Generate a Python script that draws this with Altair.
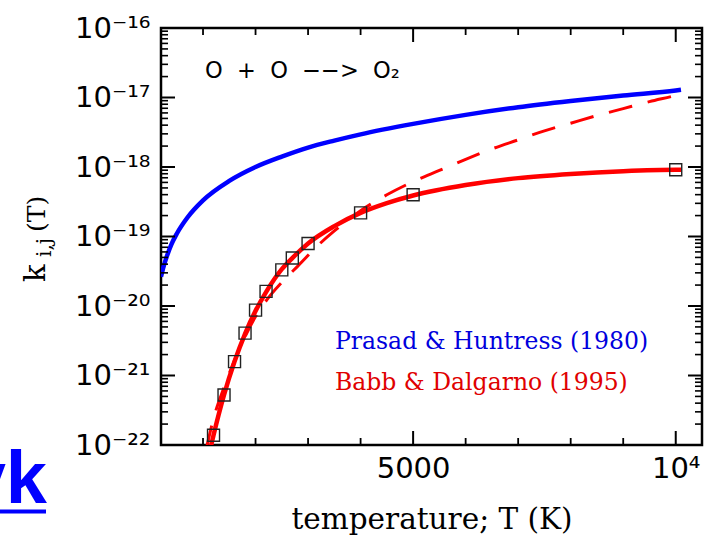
import altair as alt
import pandas as pd

# ---- data (log10 of rate coefficient) ----
blue_T = [200, 250, 300, 400, 500, 700, 1000, 1500, 2000, 2500, 3000, 3500, 4000,
          5000, 6000, 7000, 8000, 9000, 10000, 10100]
blue_logk = [-19.58, -19.43, -19.31, -19.11, -18.96, -18.73, -18.48, -18.20, -18.00,
             -17.85, -17.72, -17.62, -17.53, -17.38, -17.25, -17.14, -17.05, -16.97,
             -16.90, -16.89]

red_T = [1150, 1200, 1400, 1600, 1800, 2000, 2200, 2500, 2700, 3000, 3500, 4000, 4500,
         5000, 6000, 7000, 8000, 9000, 10000, 10100]
red_logk = [-22.02, -21.86, -21.28, -20.80, -20.40, -20.07, -19.80, -19.47, -19.31,
            -19.10, -18.85, -18.66, -18.52, -18.41, -18.26, -18.16, -18.10, -18.06,
            -18.04, -18.04]

dash_T = [1060, 1100, 1200, 1400, 1600, 1800, 2000, 2300, 2600, 2800, 3200, 3500, 4000,
          4500, 5000, 5500, 6000, 6500, 7000, 7500, 8000, 8500, 9000, 9500, 10000, 10100]
dash_logk = [-22.06, -21.93, -21.62, -21.17, -20.78, -20.44, -20.15, -19.83, -19.58,
             -19.43, -19.12, -18.92, -18.63, -18.40, -18.21, -18.05, -17.89, -17.74,
             -17.61, -17.48, -17.37, -17.26, -17.16, -17.06, -16.97, -16.95]

sq_T = [1200, 1400, 1600, 1800, 2000, 2200, 2500, 2700, 3000, 4000, 5000, 10000]
sq_logk = [-21.86, -21.28, -20.80, -20.39, -20.06, -19.79, -19.48, -19.31, -19.10,
           -18.66, -18.40, -18.04]

# ---- axis ticks ----
x_major = [5000, 10000]
x_minor = [1000, 2000, 3000, 4000, 6000, 7000, 8000, 9000]
y_major_exp = [-22, -21, -20, -19, -18, -17, -16]
y_major = [10.0 ** e for e in y_major_exp]
y_minor = [m * 10.0 ** e for e in y_major_exp[:-1] for m in range(2, 10)]

legend_labels = ["Prasad & Huntress (1980)", "Babb & Dalgarno (1995)"]
NB = "\u00a0\u00a0"
reaction = f"O{NB}+{NB}O{NB}−−>{NB}O₂"
X_TITLE = "temperature; T (K)"
Y_TITLE_PARTS = ["k", "i,j", "(T)"]

W, H = 541, 417
MAJ, MIN = 14, 7


def mk(T, logk):
    return pd.DataFrame({"T": T, "k": [10.0 ** v for v in logk]})


blue_df = mk(blue_T, blue_logk)
red_df = mk(red_T, red_logk)
dash_df = mk(dash_T, dash_logk)
sq_df = mk(sq_T, sq_logk)

xscale = alt.Scale(domain=[200, 10500], nice=False, zero=False)
yscale = alt.Scale(type="log", domain=[1e-22, 1e-16], nice=False)

sup = {"-22": "⁻²²", "-21": "⁻²¹", "-20": "⁻²⁰", "-19": "⁻¹⁹",
       "-18": "⁻¹⁸", "-17": "⁻¹⁷", "-16": "⁻¹⁶"}
y_label_expr = "'10' + (" + " : ".join(
    f"datum.value < {1.5 * 10.0 ** e:.3e} ? '{sup[str(e)]}'" for e in y_major_exp[:-1]
) + " : '" + sup["-16"] + "')"

x_axis = alt.Axis(values=x_major, ticks=False, domain=False, grid=False,
                  labelExpr="datum.value == 10000 ? '10⁴' : '5000'",
                  labelFont="DejaVu Sans", labelFontSize=29, labelColor="black",
                  labelPadding=9, labelFlush=False, labelOverlap=False,
                  titleFont="DejaVu Serif", titleFontSize=29.5,
                  titleFontWeight="normal", titleColor="black", titlePadding=22)
y_axis = alt.Axis(values=y_major, ticks=False, domain=False, grid=False,
                  labelExpr=y_label_expr, labelFont="DejaVu Sans", labelFontSize=29,
                  labelColor="black", labelPadding=11, labelFlush=False,
                  labelOverlap=False)


def X(field="T"):
    return alt.X(f"{field}:Q", scale=xscale, title=X_TITLE)


def Y(field="k"):
    return alt.Y(f"{field}:Q", scale=yscale, title=None)


blue = alt.Chart(blue_df).mark_line(color="#0000ff", strokeWidth=4.5, clip=True,
                                    interpolate="monotone").encode(
    x=alt.X("T:Q", scale=xscale, title=X_TITLE, axis=x_axis),
    y=alt.Y("k:Q", scale=yscale, title=None, axis=y_axis),
)

red = alt.Chart(red_df).mark_line(color="#ff0000", strokeWidth=4.5, clip=True,
                                  interpolate="monotone").encode(x=X(), y=Y())

dash = alt.Chart(dash_df).mark_line(color="#ff0000", strokeWidth=3, clip=True,
                                    strokeDash=[24, 16], interpolate="monotone").encode(
    x=X(), y=Y())

squares = alt.Chart(sq_df).mark_point(shape="square", size=144, filled=False,
                                      color="#222222", strokeWidth=1.4, clip=True,
                                      opacity=1).encode(x=X(), y=Y())


# ---- inward tick marks on all four sides, placed through the scales ----
def xticks(values, size, width, top):
    df = pd.DataFrame({"T": values})
    y0, y1 = (0, size) if top else (H, H - size)
    return alt.Chart(df).mark_rule(color="black", strokeWidth=width).encode(
        x=X(), y=alt.value(y0), y2=alt.value(y1))


def yticks(values, size, width, right):
    df = pd.DataFrame({"k": values})
    x0, x1 = (W, W - size) if right else (0, size)
    return alt.Chart(df).mark_rule(color="black", strokeWidth=width).encode(
        y=Y(), x=alt.value(x0), x2=alt.value(x1))


ticks = [
    xticks(x_major, MAJ, 2, False), xticks(x_major, MAJ, 2, True),
    xticks(x_minor, MIN, 1.8, False), xticks(x_minor, MIN, 1.8, True),
    yticks(y_major, MAJ, 2, False), yticks(y_major, MAJ, 2, True),
    yticks(y_minor, MIN, 1.6, False), yticks(y_minor, MIN, 1.6, True),
]

txt_df = pd.DataFrame({"t": [0]})


def label(text, x, y, size, color="black", font="DejaVu Serif", angle=0, **kw):
    return alt.Chart(txt_df).mark_text(
        align="left", baseline="alphabetic", font=font, fontSize=size, color=color,
        angle=angle, **kw
    ).encode(x=alt.value(x), y=alt.value(y), text=alt.value(text))


react_txt = label(reaction, 44, 50, 22.5, font="DejaVu Sans")
leg1 = label(legend_labels[0], 174, 321, 23.5, color="#0000dd")
leg2 = label(legend_labels[1], 174, 362, 23.5, color="#e00000")

# y-axis title k_{i,j}(T), written bottom-to-top
ytitle = [
    label(Y_TITLE_PARTS[0], -116, 254, 29, angle=270),
    label(Y_TITLE_PARTS[1], -110, 229, 20, angle=270),
    label(Y_TITLE_PARTS[2], -116, 204, 25, angle=270),
]

link_txt = alt.Chart(txt_df).mark_text(
    align="right", baseline="alphabetic", font="Liberation Sans", fontSize=74,
    fontWeight="bold", color="#0000ff"
).encode(x=alt.value(-114), y=alt.value(475), text=alt.value("vk"))

link_rule = alt.Chart(txt_df).mark_rule(color="#0000ff", strokeWidth=4).encode(
    x=alt.value(-170), x2=alt.value(-115), y=alt.value(483.5))

chart = alt.layer(
    blue, red, dash, squares, *ticks, react_txt, leg1, leg2, *ytitle,
    link_txt, link_rule
).properties(
    width=W, height=H,
    autosize=alt.AutoSizeParams(type="none"),
    padding={"left": 161, "top": 28, "right": 2, "bottom": 99},
    background="white",
).configure_view(stroke="black", strokeWidth=2.5)

chart.save("out.html", embed_options={"renderer": "svg", "actions": False})
